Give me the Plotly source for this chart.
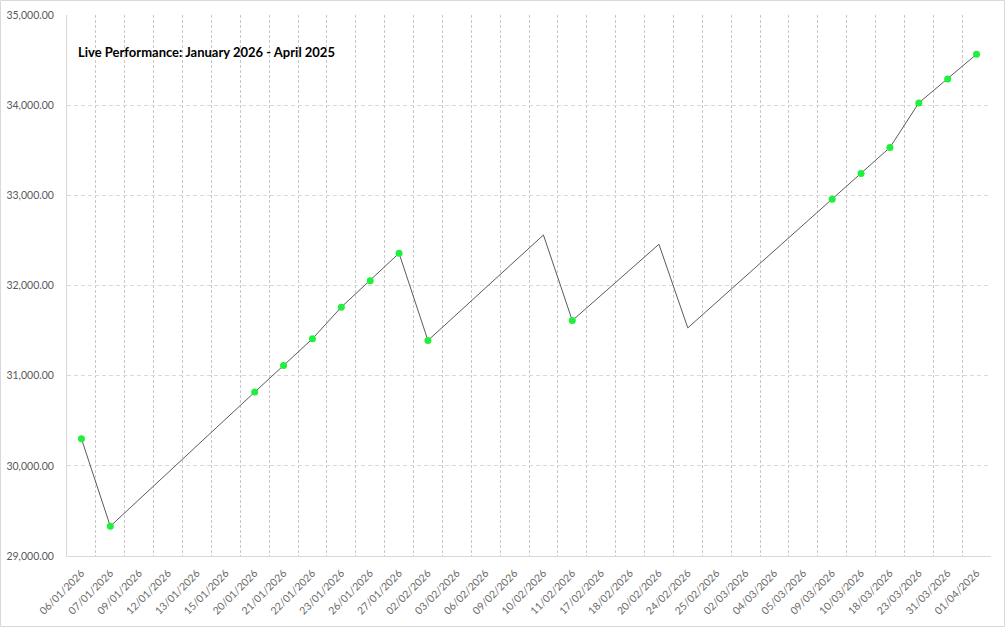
import plotly.graph_objects as go

# daty (kategorie na osi X)
dates = ['06/01/2026', '07/01/2026', '09/01/2026', '12/01/2026', '13/01/2026', '15/01/2026',
         '20/01/2026', '21/01/2026', '22/01/2026', '23/01/2026', '26/01/2026', '27/01/2026',
         '02/02/2026', '03/02/2026', '06/02/2026', '09/02/2026', '10/02/2026', '11/02/2026',
         '17/02/2026', '18/02/2026', '20/02/2026', '24/02/2026', '25/02/2026', '02/03/2026',
         '04/03/2026', '05/03/2026', '09/03/2026', '10/03/2026', '18/03/2026', '23/03/2026',
         '31/03/2026', '01/04/2026']

# linia (puste dni sa laczone prosta)
line_values = [30300, 29330, None, None, None, None,
               30818, 31113, 31409, 31760, 32054, 32358,
               31390, None, None, None, 32560, 31611,
               None, None, 32457, 31530, None, None,
               None, None, 32956, 33243, 33531, 34025,
               34291, 34565]

# punkty z markerem
marker_values = [30300, 29330, None, None, None, None,
                 30818, 31113, 31409, 31760, 32054, 32358,
                 31390, None, None, None, None, 31611,
                 None, None, None, None, None, None,
                 None, None, 32956, 33243, 33531, 34025,
                 34291, 34565]

title_text = 'Live Performance: January 2026 - April 2025'
y_ticks = [29000, 30000, 31000, 32000, 33000, 34000, 35000]

W, H = 1005, 627
ML, MR, MT, MB = 67, 14, 15, 71
pw = W - ML - MR
ph = H - MT - MB

fig = go.Figure()
fig.add_trace(go.Scatter(x=dates, y=line_values, mode='lines', connectgaps=True,
                         line=dict(color='#5a5a5a', width=1), hoverinfo='skip'))
fig.add_trace(go.Scatter(x=dates, y=marker_values, mode='markers',
                         marker=dict(color='#1ef03c', size=7)))

fig.update_layout(
    width=W, height=H,
    margin=dict(l=ML, r=MR, t=MT, b=MB, autoexpand=False),
    paper_bgcolor='white', plot_bgcolor='white',
    showlegend=False,
    font=dict(family='Lato, Open Sans, sans-serif', color='#595959'),
)

fig.update_xaxes(
    type='category', categoryorder='array', categoryarray=dates,
    range=[-0.5, len(dates) - 0.5], automargin=False,
    tickson='boundaries', ticks='',
    showgrid=True, gridcolor='#c8c8c8', griddash='3px,2px', gridwidth=1,
    showline=True, linecolor='#d9d9d9', linewidth=1,
    tickangle=-45, tickfont=dict(size=10.5, color='#6a6a6a'), ticklabelstandoff=6,
    zeroline=False,
)
fig.update_yaxes(
    range=[29000, 35000], tickvals=y_ticks, tickformat=',.2f', automargin=False,
    showgrid=True, gridcolor='#d9d9d9', griddash='4px,3px', gridwidth=1,
    showline=True, linecolor='#d9d9d9', linewidth=1,
    ticks='', tickfont=dict(size=10.5, color='#595959'), ticklabelstandoff=10,
    zeroline=False,
)

fig.add_annotation(
    text='<b>' + title_text + '</b>',
    xref='paper', yref='paper',
    x=(76 - ML) / pw, y=1 - (52 - MT) / ph,
    xanchor='left', yanchor='middle', showarrow=False,
    font=dict(size=13, color='black', family='Lato, Open Sans, sans-serif'),
)

# ramka wokol calego wykresu
fig.add_shape(
    type='rect', xref='paper', yref='paper',
    x0=-(ML - 0.5) / pw, x1=1 + (MR - 0.5) / pw,
    y0=-(MB - 0.5) / ph, y1=1 + (MT - 0.5) / ph,
    line=dict(color='#d9d9d9', width=1), layer='below',
)

# bez marginesu strony, zeby wykres zaczynal sie w rogu
fig.write_html('out.html', config={'displayModeBar': False},
               post_script="document.body.style.margin='0px';")
